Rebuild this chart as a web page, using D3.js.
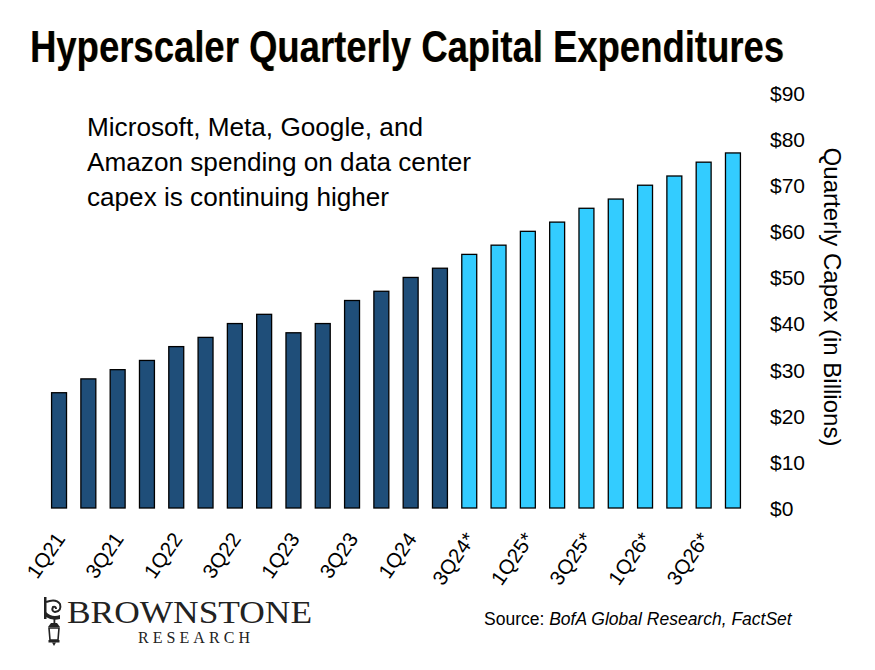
<!DOCTYPE html>
<html>
<head>
<meta charset="utf-8">
<script src="https://cdn.jsdelivr.net/npm/d3@7"></script>
<style>
  html, body { margin: 0; padding: 0; background: #ffffff; }
  svg { display: block; }
</style>
</head>
<body>
<svg id="chart" width="875" height="670"></svg>
<script>
// ---- data ----
const quarters = ["1Q21","2Q21","3Q21","4Q21","1Q22","2Q22","3Q22","4Q22",
                  "1Q23","2Q23","3Q23","4Q23","1Q24","2Q24",
                  "3Q24*","4Q24*","1Q25*","2Q25*","3Q25*","4Q25*","1Q26*","2Q26*","3Q26*","4Q26*"];
const capex = [25, 28, 30, 32, 35, 37, 40, 42, 38, 40, 45, 47, 50, 52,
               55, 57, 60, 62, 65, 67, 70, 72, 75, 77];
const isEstimate = [false,false,false,false,false,false,false,false,false,false,false,false,false,false,
                    true,true,true,true,true,true,true,true,true,true];
const yTicks = [0, 10, 20, 30, 40, 50, 60, 70, 80, 90];
const xTickLabels = ["1Q21","3Q21","1Q22","3Q22","1Q23","3Q23","1Q24","3Q24*","1Q25*","3Q25*","1Q26*","3Q26*"];
const titleText = "Hyperscaler Quarterly Capital Expenditures";
const noteLines = ["Microsoft, Meta, Google, and", "Amazon spending on data center", "capex is continuing higher"];
const yTitle = "Quarterly Capex (in Billions)";

const svg = d3.select("#chart");
const font = "'Liberation Sans', Arial, Helvetica, sans-serif";

// ---- scales ----
const x = d3.scaleBand().domain(quarters).range([44.4, 747.6]).paddingInner(0.49).paddingOuter(0.245);
const y = d3.scaleLinear().domain([0, 90]).range([508, 93]);

// ---- title ----
const tg = svg.append("g");
tg.append("text").attr("x", 30.7).attr("y", 62.3)
  .attr("font-family", "'Liberation Sans Narrow', 'Arial Narrow', " + font)
  .attr("font-weight", "bold").attr("font-size", 45).attr("fill", "#f5c46a")
  .attr("textLength", 754).attr("lengthAdjust", "spacingAndGlyphs")
  .text(titleText);
tg.append("text").attr("x", 30).attr("y", 62)
  .attr("font-family", "'Liberation Sans Narrow', 'Arial Narrow', " + font)
  .attr("font-weight", "bold").attr("font-size", 45).attr("fill", "#000")
  .attr("textLength", 754).attr("lengthAdjust", "spacingAndGlyphs")
  .text(titleText);

// ---- note ----
const noteWidths = [336, 384, 302];
svg.append("g").selectAll("text").data(noteLines).join("text")
  .attr("x", 87).attr("y", (d, i) => 136 + i * 35)
  .attr("font-family", font).attr("font-size", 26).attr("fill", "#000")
  .attr("textLength", (d, i) => noteWidths[i]).attr("lengthAdjust", "spacingAndGlyphs")
  .text(d => d);

// ---- bars ----
svg.append("g").selectAll("rect").data(quarters).join("rect")
  .attr("x", d => x(d))
  .attr("width", x.bandwidth())
  .attr("y", (d, i) => y(capex[i]))
  .attr("height", (d, i) => y(0) - y(capex[i]))
  .attr("fill", (d, i) => isEstimate[i] ? "#33ccff" : "#1f4e79")
  .attr("stroke", "#000").attr("stroke-width", 1.3);

// ---- y axis (right) ----
const yAxis = d3.axisRight(y).tickValues(yTicks).tickFormat(d => "$" + d).tickSize(0).tickPadding(0);
const yg = svg.append("g").attr("transform", "translate(770,0)").call(yAxis);
yg.select(".domain").remove();
yg.selectAll("text").attr("font-family", font).attr("font-size", 21).attr("fill", "#000").attr("dy", "0.35em");

svg.append("text")
  .attr("transform", "translate(824,297) rotate(90)")
  .attr("text-anchor", "middle")
  .attr("font-family", font).attr("font-size", 24).attr("fill", "#000")
  .text(yTitle);

// ---- x axis labels ----
const xAxis = d3.axisBottom(x).tickValues(xTickLabels).tickSize(0).tickPadding(0);
const xg = svg.append("g").attr("transform", "translate(0,508)").call(xAxis);
xg.select(".domain").remove();
xg.selectAll("text")
  .attr("font-family", font).attr("font-size", 20.5).attr("fill", "#000")
  .attr("text-anchor", "end")
  .attr("dy", null).attr("y", 0)
  .attr("transform", "translate(7,31) rotate(-55)");

// ---- source ----
const src = svg.append("text").attr("x", 484).attr("y", 625)
  .attr("font-family", font).attr("font-size", 17.5).attr("fill", "#000");
src.append("tspan").text("Source: ");
src.append("tspan").attr("font-style", "italic").text("BofA Global Research, FactSet");

// ---- logo ----
const logo = svg.append("g");
logo.append("text").attr("x", 67).attr("y", 623)
  .attr("font-family", "'Liberation Serif', 'DejaVu Serif', serif").attr("font-size", 32)
  .attr("fill", "#222").attr("textLength", 245).attr("lengthAdjust", "spacingAndGlyphs")
  .text("BROWNSTONE");
logo.append("text").attr("x", 138).attr("y", 643)
  .attr("font-family", "'Liberation Serif', 'DejaVu Serif', serif").attr("font-size", 16)
  .attr("fill", "#222").attr("textLength", 112).attr("lengthAdjust", "spacing")
  .text("RESEARCH");
// lamp icon
const ic = logo.append("g").attr("fill", "#222").attr("stroke", "#222");
ic.append("rect").attr("x", 44).attr("y", 597).attr("width", 2.5).attr("height", 22).attr("stroke", "none");
ic.append("path").attr("d", "M46,602 Q56,598 60,604 Q62,611 55,612 Q51,611 53,607 Q56,606 56,609")
  .attr("fill", "none").attr("stroke-width", 2);
ic.append("path").attr("d", "M46,612 Q52,618 60,615 L60,619 Q52,621 46,617 Z").attr("stroke", "none");
ic.append("rect").attr("x", 53.5).attr("y", 616).attr("width", 1.8).attr("height", 7).attr("stroke", "none");
ic.append("path").attr("d", "M48,627 L60,627 L57,623 L51,623 Z").attr("stroke", "none");
ic.append("path").attr("d", "M49,628 L59,628 L58,640 L50,640 Z").attr("fill", "none").attr("stroke-width", 1.6);
ic.append("rect").attr("x", 48.5).attr("y", 640).attr("width", 11).attr("height", 2.5).attr("stroke", "none");
ic.append("path").attr("d", "M52,642.5 L56,642.5 L54,646 Z").attr("stroke", "none");
</script>
</body>
</html>
